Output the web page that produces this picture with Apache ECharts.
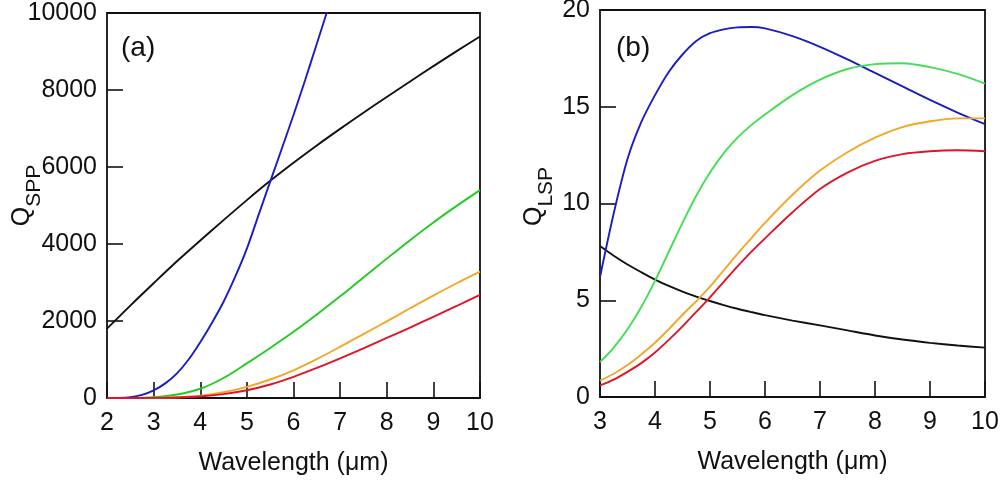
<!DOCTYPE html>
<html>
<head>
<meta charset="utf-8">
<script src="https://cdn.jsdelivr.net/npm/echarts@6/dist/echarts.min.js"></script>
<style>
  html, body { margin: 0; padding: 0; background: #fff; }
  #chart { width: 1003px; height: 487px; }
</style>
</head>
<body>
<div id="chart"></div>
<script>
// panel (a): Q_SPP vs wavelength
var wlA = [2, 2.5, 3, 3.5, 4, 4.5, 5, 5.5, 6, 6.5, 7, 7.5, 8, 8.5, 9, 9.5, 10];
var sppBlack  = [1800, 2400, 2980, 3550, 4090, 4620, 5140, 5640, 6110, 6560, 6990, 7410, 7820, 8220, 8620, 9010, 9390];
var sppGreen  = [0, 2, 20, 90, 240, 520, 900, 1300, 1720, 2170, 2640, 3130, 3620, 4100, 4560, 4990, 5400];
var sppOrange = [0, 1, 5, 20, 60, 150, 290, 480, 720, 1010, 1330, 1660, 1990, 2330, 2660, 2980, 3280];
var sppRed    = [0, 0, 3, 12, 40, 100, 200, 350, 550, 780, 1030, 1290, 1560, 1830, 2110, 2390, 2680];
// blue rises fast and leaves the frame near 6.7 um
var wlBlue  = [2, 2.25, 2.5, 2.75, 3, 3.25, 3.5, 3.75, 4, 4.25, 4.5, 4.75, 5, 5.25, 5.5, 5.75, 6, 6.25, 6.5, 6.75, 7];
var sppBlue = [0, 2, 20, 80, 200, 380, 640, 1000, 1450, 1950, 2500, 3150, 3880, 4750, 5620, 6480, 7350, 8260, 9200, 10150, 11100];

// panel (b): Q_LSP vs wavelength
var wlB = [3, 3.25, 3.5, 3.75, 4, 4.25, 4.5, 4.75, 5, 5.25, 5.5, 5.75, 6, 6.5, 7, 7.5, 8, 8.5, 9, 9.5, 10];
var lspBlue   = [6.2, 9.5, 12.3, 14.2, 15.6, 16.8, 17.7, 18.4, 18.8, 19.0, 19.1, 19.12, 19.05, 18.65, 18.1, 17.45, 16.75, 16.05, 15.35, 14.7, 14.1];
var lspGreen  = [1.8, 2.55, 3.5, 4.65, 6.0, 7.5, 9.0, 10.4, 11.6, 12.6, 13.4, 14.05, 14.6, 15.6, 16.4, 16.95, 17.2, 17.25, 17.05, 16.7, 16.2];
var lspOrange = [0.85, 1.2, 1.65, 2.2, 2.8, 3.5, 4.25, 4.95, 5.7, 6.55, 7.4, 8.2, 9.0, 10.45, 11.7, 12.65, 13.4, 13.95, 14.25, 14.4, 14.4];
var lspRed    = [0.6, 0.9, 1.3, 1.75, 2.3, 2.95, 3.65, 4.4, 5.15, 5.95, 6.75, 7.5, 8.2, 9.55, 10.75, 11.6, 12.2, 12.55, 12.7, 12.75, 12.7];
var lspBlack  = [7.8, 7.3, 6.85, 6.45, 6.07, 5.74, 5.45, 5.19, 4.96, 4.75, 4.56, 4.39, 4.23, 3.95, 3.7, 3.44, 3.18, 2.97, 2.8, 2.66, 2.55];

var FONT = "'Liberation Sans', Arial, sans-serif";

function pairs(xs, ys) {
    return xs.map(function (x, i) { return [x, ys[i]] })
}

function line(idx, xs, ys, color) {
    return {
        type: 'line',
        xAxisIndex: idx,
        yAxisIndex: idx,
        data: pairs(xs, ys),
        showSymbol: false,
        smooth: 0.3,
        lineStyle: { color: color, width: 1.9 },
        z: 3
    }
}

function xAxis(idx, min) {
    return {
        type: 'value', gridIndex: idx, min: min, max: 10, interval: 1,
        name: 'Wavelength (\u03bcm)', nameLocation: 'middle', nameGap: 53,
        nameMoveOverlap: false,
        nameTextStyle: { fontSize: 25, color: '#111', fontFamily: FONT },
        axisLine: { show: false },
        axisTick: { inside: true, length: 16, lineStyle: { color: '#111', width: 1.6 } },
        axisLabel: { fontSize: 25, color: '#111', fontFamily: FONT, margin: 13 },
        splitLine: { show: false }
    }
}

// rotated name: left padding in text frame pushes the text up on screen
function yAxis(idx, max, interval, sub, gap, lift) {
    return {
        type: 'value', gridIndex: idx, min: 0, max: max, interval: interval,
        name: '{q|Q}{s|' + sub + '}', nameLocation: 'middle', nameRotate: 90,
        nameGap: gap,
        nameMoveOverlap: false,
        nameTextStyle: {
            color: '#111', fontFamily: FONT,
            padding: [0, 0, 0, lift],
            rich: {
                q: { fontSize: 25, lineHeight: 24, padding: [0, 0, 12, 0], fontFamily: FONT, color: '#111' },
                s: { fontSize: 21, lineHeight: 20, padding: [12, 0, 0, 0], fontFamily: FONT, color: '#111' }
            }
        },
        axisLine: { show: false },
        axisTick: { inside: true, length: 16, lineStyle: { color: '#111', width: 1.6 } },
        axisLabel: {
            fontSize: 25, color: '#111', fontFamily: FONT, margin: 10,
            formatter: function (v) { return String(v) }
        },
        splitLine: { show: false }
    }
}

var chart = echarts.init(document.getElementById('chart'), null, { renderer: 'canvas' });
chart.setOption({
    backgroundColor: '#fff',
    animation: false,
    grid: [
        { left: 107, top: 13, width: 373, height: 385, outerBoundsMode: 'none', show: true, borderColor: '#111', borderWidth: 1.8, backgroundColor: 'transparent' },
        { left: 600, top: 10, width: 385, height: 387, outerBoundsMode: 'none', show: true, borderColor: '#111', borderWidth: 1.8, backgroundColor: 'transparent' }
    ],
    xAxis: [xAxis(0, 2), xAxis(1, 3)],
    yAxis: [yAxis(0, 10000, 2000, 'SPP', 67, 20), yAxis(1, 20, 5, 'LSP', 48, 14)],
    graphic: [
        { type: 'text', left: 121, top: 34, style: { text: '(a)', fontSize: 28, fill: '#111', fontFamily: FONT } },
        { type: 'text', left: 616, top: 34, style: { text: '(b)', fontSize: 28, fill: '#111', fontFamily: FONT } }
    ],
    series: [
        line(0, wlA, sppBlack, '#111111'),
        line(0, wlBlue, sppBlue, '#1c1cc4'),
        line(0, wlA, sppGreen, '#22cc22'),
        line(0, wlA, sppOrange, '#f0a828'),
        line(0, wlA, sppRed, '#e01428'),
        line(1, wlB, lspBlack, '#111111'),
        line(1, wlB, lspBlue, '#1c1cc4'),
        line(1, wlB, lspGreen, '#44dd55'),
        line(1, wlB, lspOrange, '#f0a828'),
        line(1, wlB, lspRed, '#e01428')
    ]
});
</script>
</body>
</html>
